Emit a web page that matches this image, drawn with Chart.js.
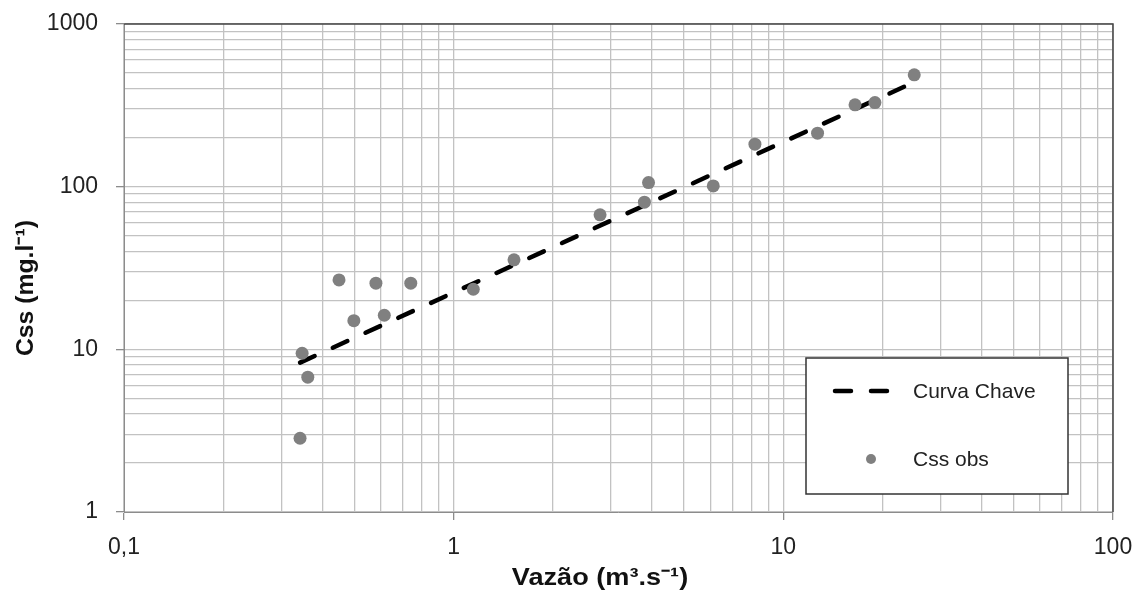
<!DOCTYPE html>
<html lang="pt">
<head>
    <meta charset="UTF-8">
    <title>Curva Chave de Sedimentos</title>
    <script src="https://cdn.jsdelivr.net/npm/chart.js@4.4.0/dist/chart.umd.min.js"></script>
    <style>
        html, body {
            margin: 0;
            padding: 0;
            background: #ffffff;
        }
        #wrap {
            width: 1138px;
            height: 592px;
        }
    </style>
</head>
<body>
    <div id="wrap"><canvas id="grafico"></canvas></div>

    <script>
        // Observações: vazão (m3/s) e concentração de sedimentos (mg/l)
        const vazaoObs = [0.342, 0.347, 0.361, 0.449, 0.498, 0.581, 0.616, 0.741, 1.147, 1.524,
                          2.78, 3.79, 3.90, 6.13, 8.20, 12.7, 16.5, 18.96, 24.95];
        const cssObs = [2.84, 9.46, 6.74, 26.7, 15.0, 25.5, 16.2, 25.5, 23.4, 35.5,
                        67.1, 80.3, 106.0, 101.1, 182.5, 213.3, 318.5, 329, 487];

        // Curva chave ajustada (extremos)
        const vazaoCurva = [0.342, 24.95];
        const cssCurva = [8.28, 439];

        // Rótulos dos eixos (só nas décadas)
        const xMajor = [0.1, 1, 10, 100];
        const xTickLabels = ['0,1', '1', '10', '100'];
        const yMajor = [1, 10, 100, 1000];
        const yTickLabels = ['1', '10', '100', '1000'];

        const fonte = "'Liberation Sans', Arial, sans-serif";

        // linhas de grade 1..9 x 10^n entre as décadas
        function gradeLog(majors) {
            const vals = [];
            for (let i = 0; i < majors.length - 1; i++) {
                for (let k = 1; k <= 9; k++) {
                    vals.push(parseFloat((k * majors[i]).toPrecision(4)));
                }
            }
            vals.push(majors[majors.length - 1]);
            return vals;
        }

        function rotulo(majors, labels) {
            return function (value) {
                const i = majors.findIndex(m => Math.abs(m - value) < m * 1e-6);
                return i >= 0 ? labels[i] : '';
            };
        }

        function corTick(majors) {
            return function (ctx) {
                if (!ctx.tick) return 'rgba(0,0,0,0)';
                const v = ctx.tick.value;
                return majors.some(m => Math.abs(m - v) < m * 1e-6) ? '#8c8c8c' : 'rgba(0,0,0,0)';
            };
        }

        const dadosObs = vazaoObs.map((q, i) => ({ x: q, y: cssObs[i] }));
        const dadosCurva = vazaoCurva.map((q, i) => ({ x: q, y: cssCurva[i] }));

        // moldura superior/direita, títulos dos eixos e legenda
        const extras = {
            id: 'extras',
            afterDraw(chart) {
                const c = chart.ctx;
                const a = chart.chartArea;
                c.save();

                c.strokeStyle = '#444444';
                c.lineWidth = 1.5;
                c.beginPath();
                c.moveTo(a.left, a.top);
                c.lineTo(a.right, a.top);
                c.lineTo(a.right, a.bottom);
                c.stroke();

                // títulos (letra um pouco alargada)
                c.fillStyle = '#111111';
                c.font = 'bold 24px ' + fonte;
                c.textAlign = 'center';
                c.textBaseline = 'middle';
                c.translate(600, 578);
                c.scale(1.13, 1);
                c.fillText('Vazão (m³.s⁻¹)', 0, 0);
                c.setTransform(1, 0, 0, 1, 0, 0);

                c.translate(26, 288);
                c.rotate(-Math.PI / 2);
                c.scale(1.03, 1);
                c.fillText('Css (mg.l⁻¹)', 0, 0);
                c.setTransform(1, 0, 0, 1, 0, 0);

                // legenda
                const bx = 806, by = 358, bw = 262, bh = 136;
                c.fillStyle = '#ffffff';
                c.fillRect(bx, by, bw, bh);
                c.strokeStyle = '#333333';
                c.lineWidth = 1.5;
                c.strokeRect(bx, by, bw, bh);

                const dsCurva = chart.data.datasets[0];
                const dsObs = chart.data.datasets[1];

                c.strokeStyle = dsCurva.borderColor;
                c.lineWidth = dsCurva.borderWidth;
                c.lineCap = 'round';
                c.setLineDash(dsCurva.borderDash);
                c.beginPath();
                c.moveTo(835, 391);
                c.lineTo(890, 391);
                c.stroke();
                c.setLineDash([]);

                c.fillStyle = dsObs.backgroundColor;
                c.beginPath();
                c.arc(871, 459, 5, 0, Math.PI * 2);
                c.fill();

                c.fillStyle = '#222222';
                c.font = '21px ' + fonte;
                c.textAlign = 'left';
                c.textBaseline = 'middle';
                c.fillText(dsCurva.label, 913, 392);
                c.fillText(dsObs.label, 913, 460);

                c.restore();
            }
        };

        new Chart(document.getElementById('grafico'), {
            type: 'scatter',
            data: {
                datasets: [
                    {
                        label: 'Curva Chave',
                        data: dadosCurva,
                        showLine: true,
                        borderColor: '#000000',
                        borderWidth: 4.5,
                        borderDash: [16, 20],
                        borderCapStyle: 'round',
                        pointRadius: 0,
                        order: 1
                    },
                    {
                        label: 'Css obs',
                        data: dadosObs,
                        backgroundColor: '#808080',
                        borderColor: '#808080',
                        borderWidth: 0,
                        pointRadius: 6.5,
                        order: 0
                    }
                ]
            },
            options: {
                responsive: true,
                maintainAspectRatio: false,
                animation: false,
                layout: { padding: { top: 24, right: 25, left: 0, bottom: 0 } },
                plugins: {
                    legend: { display: false },
                    tooltip: { enabled: false }
                },
                scales: {
                    x: {
                        type: 'logarithmic',
                        min: 0.1,
                        max: 100,
                        afterBuildTicks(scale) {
                            scale.ticks = gradeLog(xMajor).map(v => ({ value: v, major: false }));
                        },
                        afterFit(scale) {
                            scale.height = 80;
                            scale.paddingLeft = 0;
                            scale.paddingRight = 0;
                        },
                        grid: {
                            color: '#c2c2c2',
                            lineWidth: 1.3,
                            drawTicks: true,
                            tickLength: 8,
                            tickColor: corTick(xMajor)
                        },
                        border: { color: '#8c8c8c', width: 1 },
                        ticks: {
                            autoSkip: false,
                            maxRotation: 0,
                            padding: 14,
                            color: '#222222',
                            font: { family: fonte, size: 23 },
                            callback: rotulo(xMajor, xTickLabels)
                        }
                    },
                    y: {
                        type: 'logarithmic',
                        min: 1,
                        max: 1000,
                        afterBuildTicks(scale) {
                            scale.ticks = gradeLog(yMajor).map(v => ({ value: v, major: false }));
                        },
                        afterFit(scale) {
                            scale.width = 124;
                            scale.paddingTop = 0;
                            scale.paddingBottom = 0;
                        },
                        grid: {
                            color: '#c2c2c2',
                            lineWidth: 1.3,
                            drawTicks: true,
                            tickLength: 8,
                            tickColor: corTick(yMajor)
                        },
                        border: { color: '#8c8c8c', width: 1 },
                        ticks: {
                            autoSkip: false,
                            padding: 18,
                            color: '#222222',
                            font: { family: fonte, size: 23 },
                            callback: rotulo(yMajor, yTickLabels)
                        }
                    }
                }
            },
            plugins: [extras]
        });
    </script>
</body>
</html>
